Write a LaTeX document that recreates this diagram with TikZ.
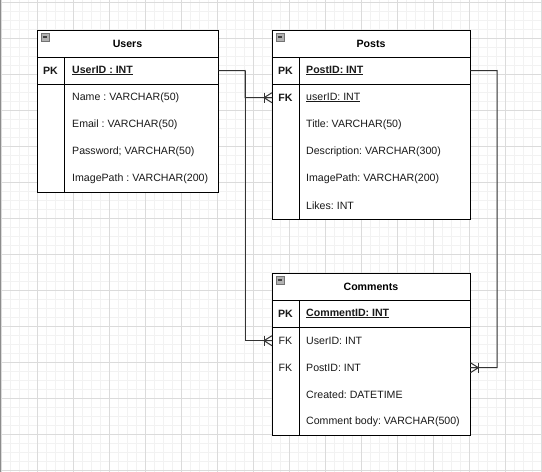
\documentclass[tikz,border=0pt]{standalone}
\usepackage{fontspec}
\setmainfont{Liberation Sans}
\frenchspacing
\begin{document}
\begin{tikzpicture}[x=1pt,y=-1pt,
  every node/.style={font=\fontsize{10.6}{12}\selectfont, inner sep=0pt},
  tbl/.style={draw=black, line width=1pt, rectangle, anchor=north west},
  sep/.style={draw=black, line width=1pt},
  rowbox/.style={rectangle, minimum height=27pt, anchor=north west},
  attr/.style={anchor=west, text=black!90},
  keyl/.style={anchor=center, text=black!90},
  title/.style={anchor=center, font=\fontsize{10.6}{12}\selectfont\bfseries},
  conn/.style={draw=black!80, line width=1pt},
  minorg/.style={draw=black!5, line width=0.8pt},
  majorg/.style={draw=black!14, line width=0.8pt},
  crow/.pic={\draw[conn] (-8,-5) -- (-8,5);
             \draw[conn] (-8,0) -- (0,-5) (-8,0) -- (0,0) (-8,0) -- (0,5);},
  icon/.pic={\draw[draw=black!55, fill=black!30, line width=0.6pt] (0,0) rectangle (8,8);
             \draw[black!75, line width=1.2pt] (1.8,4) -- (6.2,4);}
]
\useasboundingbox (0,0) rectangle (542,472);
\fill[white] (0,0) rectangle (542,472);
% grid
\foreach \x in {1,10,...,541} \draw[minorg] (\x,0) -- (\x,472);
\foreach \y in {2,11,...,470} \draw[minorg] (0,\y) -- (542,\y);
\foreach \x in {1,37,...,541} \draw[majorg] (\x,0) -- (\x,472);
\foreach \y in {2,38,...,470} \draw[majorg] (0,\y) -- (542,\y);
\draw[black!45, line width=1pt] (0.5,0) -- (0.5,472);

% ---------- Users ----------
\node[tbl, minimum width=181pt, minimum height=162pt, fill=white] (users) at (37,30) {};
\node[rowbox, minimum width=181pt] (upk) at (37,57) {};
\draw[sep] (37,57) -- (218,57) (37,84) -- (218,84) (64,57) -- (64,192);
\pic at (41,33) {icon};
\node[title] (ut) at (127.5,43.5) {Users};
\node[keyl, font=\fontsize{10.6}{12}\selectfont\bfseries] (upkl) at (50.5,70.5) {PK};
\node[attr, font=\fontsize{10.6}{12}\selectfont\bfseries] (upkt) at (72,70.5) {\underline{UserID : INT}};
\node[attr] (u1) at (72,97.5) {Name : VARCHAR(50)};
\node[attr] (u2) at (72,124.5) {Email : VARCHAR(50)};
\node[attr] (u3) at (72,151.5) {Password; VARCHAR(50)};
\node[attr] (u4) at (72,178.5) {ImagePath : VARCHAR(200)};

% ---------- Posts ----------
\node[tbl, minimum width=198pt, minimum height=189pt, fill=white] (posts) at (272,30) {};
\node[rowbox, minimum width=198pt] (ppk) at (272,57) {};
\node[rowbox, minimum width=198pt] (pfk) at (272,84) {};
\draw[sep] (272,57) -- (470,57) (272,84) -- (470,84) (299,57) -- (299,219);
\pic at (276,33) {icon};
\node[title] (pt) at (371,43.5) {Posts};
\node[keyl, font=\fontsize{10.6}{12}\selectfont\bfseries] (ppkl) at (285.5,70.5) {PK};
\node[attr, font=\fontsize{10.6}{12}\selectfont\bfseries] (ppkt) at (306,70.5) {\underline{PostID: INT}};
\node[keyl, font=\fontsize{10.6}{12}\selectfont\bfseries] (pfkl) at (285.5,97.5) {FK};
\node[attr] (p1) at (306,97.5) {\underline{userID: INT}};
\node[attr] (p2) at (306,124.5) {Title: VARCHAR(50)};
\node[attr] (p3) at (306,151.5) {Description: VARCHAR(300)};
\node[attr] (p4) at (306,178.5) {ImagePath: VARCHAR(200)};
\node[attr] (p5) at (306,205.5) {Likes: INT};

% ---------- Comments ----------
\node[tbl, minimum width=198pt, minimum height=162pt, fill=white] (comments) at (272,273) {};
\node[rowbox, minimum width=198pt] (cpk) at (272,300) {};
\node[rowbox, minimum width=198pt] (cuser) at (272,327) {};
\node[rowbox, minimum width=198pt] (cpost) at (272,354) {};
\draw[sep] (272,300) -- (470,300) (272,327) -- (470,327) (299,300) -- (299,435);
\pic at (276,276) {icon};
\node[title] (ct) at (371,286.5) {Comments};
\node[keyl, font=\fontsize{10.6}{12}\selectfont\bfseries] (cpkl) at (285.5,313.5) {PK};
\node[attr, font=\fontsize{10.6}{12}\selectfont\bfseries] (cpkt) at (306,313.5) {\underline{CommentID: INT}};
\node[keyl] (cfk1) at (285.5,340.5) {FK};
\node[attr] (c1) at (306,340.5) {UserID: INT};
\node[keyl] (cfk2) at (285.5,367.5) {FK};
\node[attr] (c2) at (306,367.5) {PostID: INT};
\node[attr] (c3) at (306,394.5) {Created: DATETIME};
\node[attr] (c4) at (306,421.5) {Comment body: VARCHAR(500)};

% ---------- connectors ----------
\coordinate (j1) at (245,70.5);
\coordinate (j2) at (497,70.5);
\draw[conn] (upk.east) -- (j1) |- (pfk.west);
\draw[conn] (j1) |- (cuser.west);
\draw[conn] (ppk.east) -- (j2) |- (cpost.east);
\pic at (pfk.west) {crow};
\pic at (cuser.west) {crow};
\pic[xscale=-1] at (cpost.east) {crow};
\end{tikzpicture}
\end{document}
